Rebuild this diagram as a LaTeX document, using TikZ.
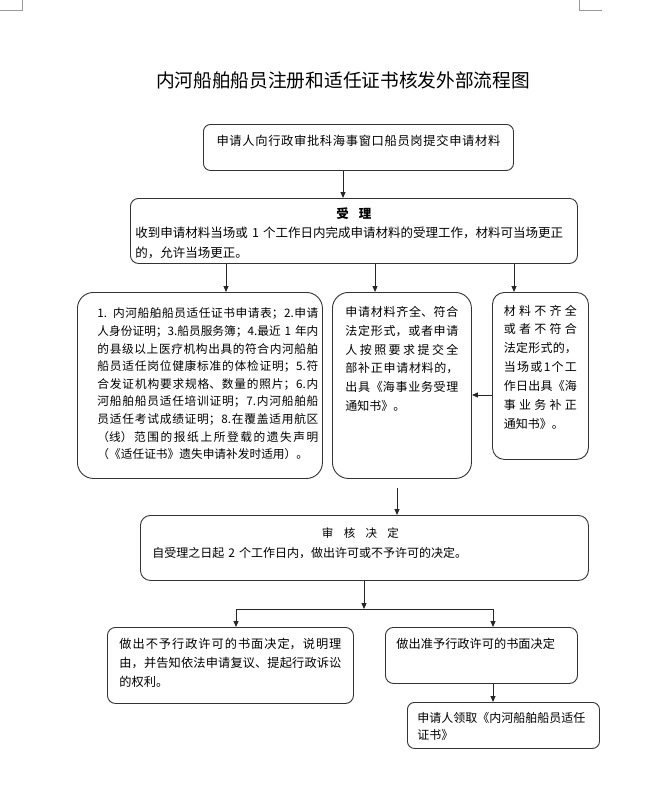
\documentclass[tikz,border=0pt]{standalone}
\usepackage{fontspec}
\setmainfont{Noto Sans CJK SC}
\usetikzlibrary{arrows.meta}
\XeTeXlinebreaklocale "zh"
\XeTeXlinebreakskip=0pt plus 5pt
\tolerance=10000
\hbadness=10000
\hfuzz=3pt
\setlength{\parindent}{0pt}
\begin{document}
\begin{tikzpicture}[x=1pt, y=-1pt,
  box/.style={draw=black!80, line width=0.9pt, inner ysep=0pt, anchor=north west},
  arr/.style={-{Triangle[length=6pt,width=5pt]}, line width=0.9pt, draw=black!85},
  plainline/.style={line width=0.9pt, draw=black!85},
  cornermark/.style={draw=black!40, line width=0.8pt}]
\useasboundingbox (0,0) rectangle (671,811);
% corner marks
\draw[cornermark] (0,10.7) -- (22,10.7) -- (22,0);
\draw[cornermark] (602,10.7) -- (579,10.7) -- (579,0);
% title
\node[font=\fontsize{18.7pt}{22pt}\selectfont, anchor=base, inner sep=0pt] (title) at (343,87) {内河船舶船员注册和适任证书核发外部流程图};
% boxes
\node[box, rounded corners=7pt, text width=290pt, inner xsep=10pt, text height=20.7pt, text depth=25.3pt, align=center, font=\fontsize{12.3pt}{16pt}\selectfont] (b1) at (203,124) {申请人向行政审批科海事窗口船员岗提交申请材料};
\node[box, rounded corners=8pt, text width=437pt, inner xsep=5pt, text height=19.7pt, text depth=45.3pt, align=left, font=\fontsize{12.5pt}{19.5pt}\selectfont] (b2) at (130,198) {\makebox[\linewidth]{\bfseries 受\hspace{0.8em}理}\\收到申请材料当场或 1 个工作日内完成申请材料的受理工作，材料可当场更正\\的，允许当场更正。};
\node[box, rounded corners=16pt, text width=237pt, inner xsep=4pt, text height=25.5pt, text depth=160.5pt, align=left, font=\fontsize{11.7pt}{17.6pt}\selectfont] (m1) at (77,292) {\hspace*{16pt}\parbox[t]{221pt}{1. 内河船舶船员适任证书申请表；2.申请\linebreak 人身份证明；3.船员服务簿；4.最近 1 年内\linebreak 的县级以上医疗机构出具的符合内河船舶\linebreak 船员适任岗位健康标准的体检证明；5.符\linebreak 合发证机构要求规格、数量的照片；6.内\linebreak 河船舶船员适任培训证明；7.内河船舶船\linebreak 员适任考试成绩证明；8.在覆盖适用航区\linebreak （线）范围的报纸上所登载的遗失声明\linebreak （《适任证书》遗失申请补发时适用）。}};
\node[box, rounded corners=16pt, text width=113pt, inner xsep=13pt, text height=24.3pt, text depth=161.7pt, align=justify, font=\fontsize{12pt}{18.7pt}\selectfont] (m2) at (332,292) {申请材料齐全、符合\linebreak 法定形式，或者申请\linebreak 人按照要求提交全\linebreak 部补正申请材料的，\linebreak 出具《海事业务受理\linebreak 通知书》。};
\node[box, rounded corners=12pt, text width=73pt, inner xsep=11.5pt, text height=22.6pt, text depth=144.4pt, align=justify, font=\fontsize{12pt}{18.9pt}\selectfont] (m3) at (492,292) {材料不齐全\linebreak 或者不符合\linebreak 法定形式的，\linebreak 当场或1个工\linebreak 作日出具《海\linebreak 事业务补正\linebreak 通知书》。};
\node[box, rounded corners=10pt, text width=424pt, inner xsep=12pt, text height=22.4pt, text depth=42.6pt, align=left, font=\fontsize{12pt}{19.2pt}\selectfont] (r) at (140,515) {\makebox[\linewidth]{\hspace*{-8pt}\fontsize{11.5pt}{14pt}\selectfont 审\hspace{0.9em}核\hspace{0.9em}决\hspace{0.9em}定}\\自受理之日起 2 个工作日内，做出许可或不予许可的决定。};
\node[box, rounded corners=8pt, text width=222pt, inner xsep=12pt, text height=20.6pt, text depth=55.4pt, align=justify, font=\fontsize{12.2pt}{19pt}\selectfont] (d1) at (107,627) {做出不予行政许可的书面决定，说明理\linebreak 由，并告知依法申请复议、提起行政诉讼\linebreak 的权利。};
\node[box, rounded corners=8pt, text width=170pt, inner xsep=11pt, text height=20.6pt, text depth=35.4pt, align=left, font=\fontsize{12.2pt}{19pt}\selectfont] (d2) at (385,627) {做出准予行政许可的书面决定};
\node[box, rounded corners=7pt, text width=172pt, inner xsep=10pt, text height=19.6pt, text depth=26.4pt, align=left, font=\fontsize{12pt}{17pt}\selectfont] (f) at (407,702) {申请人领取《内河船舶船员适任\\证书》};
% helper coordinates
\coordinate (xa) at (343,0);
\coordinate (xb) at (226,0);
\coordinate (xc) at (375,0);
\coordinate (xd) at (514,0);
\coordinate (ya) at (0,395);
\coordinate (s6) at (397,488);
\coordinate (jn) at (364,609);
\coordinate (jl) at (236,609);
\coordinate (jr) at (493,609);
% connectors
\draw[arr] (b1.south -| xa) -- (b2.north -| xa);
\draw[arr] (b2.south -| xb) -- (m1.north -| xb);
\draw[arr] (b2.south -| xc) -- (m2.north -| xc);
\draw[arr] (b2.south -| xd) -- (m3.north -| xd);
\draw[arr] (m3.west |- ya) -- (m2.east |- ya);
\draw[arr] (s6) -- (r.north -| s6);
\draw[arr] (r.south -| jn) -- (jn);
\draw[plainline] (jl) -- (jr);
\draw[arr] (jl) -- (d1.north -| jl);
\draw[arr] (jr) -- (d2.north -| jr);
\draw[arr] (d2.south -| jr) -- (f.north -| jr);
\end{tikzpicture}
\end{document}
